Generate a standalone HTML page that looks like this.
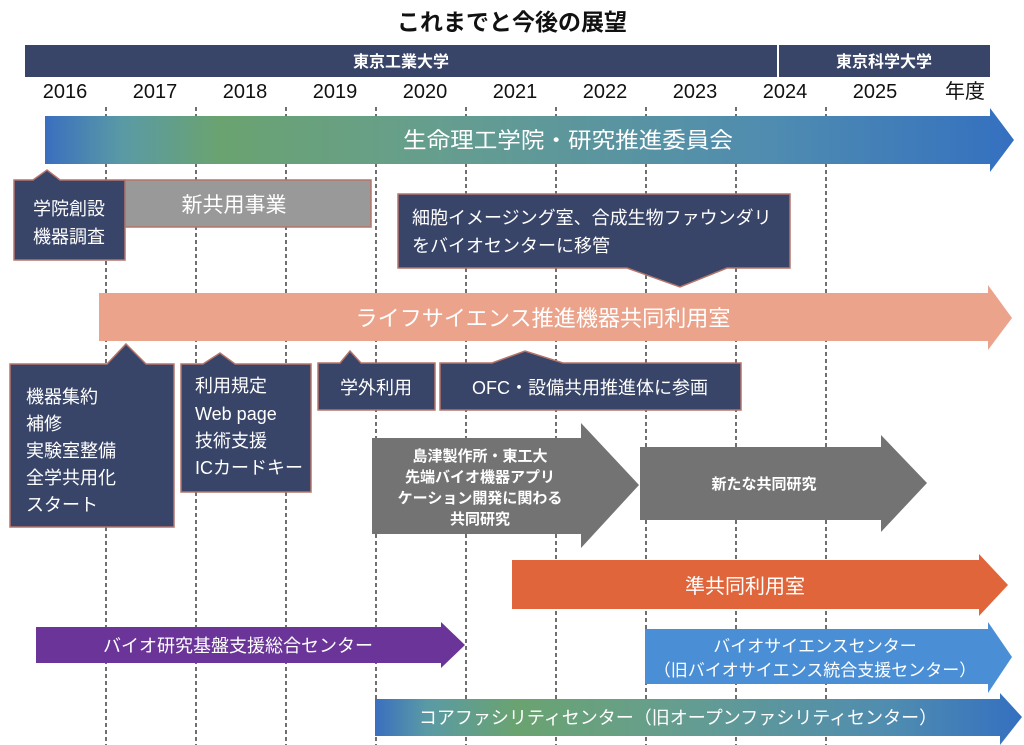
<!DOCTYPE html>
<html><head><meta charset="utf-8"><style>
html,body{margin:0;padding:0;background:#fff}
svg{display:block}
text{font-family:"Liberation Sans","Noto Sans CJK JP",sans-serif}
</style></head><body>
<svg width="1024" height="745" viewBox="0 0 1024 745">
<defs>
<linearGradient id="g1" x1="0" x2="1" y1="0" y2="0">
<stop offset="0" stop-color="#3a6fbf"/><stop offset="0.08" stop-color="#5a9aa5"/><stop offset="0.18" stop-color="#6aa370"/><stop offset="0.4" stop-color="#669e8e"/><stop offset="0.75" stop-color="#4f8cb0"/><stop offset="1" stop-color="#3470c0"/>
</linearGradient>
<linearGradient id="g2" x1="0" x2="1" y1="0" y2="0">
<stop offset="0" stop-color="#3a6fbf"/><stop offset="0.08" stop-color="#5a9aa5"/><stop offset="0.22" stop-color="#6aa370"/><stop offset="0.45" stop-color="#669e8e"/><stop offset="0.8" stop-color="#4f8cb0"/><stop offset="1" stop-color="#3470c0"/>
</linearGradient>
</defs>
<text x="512" y="30" font-size="23" font-weight="bold" text-anchor="middle" fill="#111">これまでと今後の展望</text>
<rect x="25" y="45" width="752" height="32" fill="#384468"/>
<rect x="779" y="45" width="211" height="32" fill="#384468"/>
<text x="401" y="67" font-size="16" font-weight="bold" fill="#fff" text-anchor="middle">東京工業大学</text>
<text x="884" y="67" font-size="16" font-weight="bold" fill="#fff" text-anchor="middle">東京科学大学</text>
<g font-size="20" fill="#111" text-anchor="middle">
<text x="65" y="98">2016</text><text x="155" y="98">2017</text><text x="245" y="98">2018</text><text x="335" y="98">2019</text><text x="425" y="98">2020</text><text x="515" y="98">2021</text><text x="605" y="98">2022</text><text x="695" y="98">2023</text><text x="785" y="98">2024</text><text x="875" y="98">2025</text><text x="965" y="98">年度</text>
</g>
<g stroke="#222" stroke-width="1.3" stroke-dasharray="4,3">
<line x1="106" y1="107" x2="106" y2="745"/><line x1="196" y1="107" x2="196" y2="745"/><line x1="286" y1="107" x2="286" y2="745"/><line x1="376" y1="107" x2="376" y2="745"/><line x1="466" y1="107" x2="466" y2="745"/><line x1="556" y1="107" x2="556" y2="745"/><line x1="646" y1="107" x2="646" y2="745"/><line x1="736" y1="107" x2="736" y2="745"/><line x1="826" y1="107" x2="826" y2="745"/>
</g>
<polygon points="45,116 990,116 990,108 1014,140 990,172 990,164 45,164" fill="url(#g1)"/>
<text x="568" y="148" font-size="22" fill="#fff" text-anchor="middle" textLength="330" lengthAdjust="spacingAndGlyphs">生命理工学院・研究推進委員会</text>
<rect x="125" y="180" width="246" height="47" fill="#999" stroke="#b5756a" stroke-width="1.5"/>
<text x="234" y="212" font-size="21" fill="#fff" text-anchor="middle">新共用事業</text>
<polygon points="14,180 33,180 47,170 60,180 125,180 125,260 14,260" fill="#384468" stroke="#b5756a" stroke-width="1.5"/>
<text x="69" y="215" font-size="18" fill="#fff" text-anchor="middle">学院創設</text>
<text x="69" y="243" font-size="18" fill="#fff" text-anchor="middle">機器調査</text>
<polygon points="398,194 790,194 790,268 727,268 680,287 627,268 398,268" fill="#384468" stroke="#b5756a" stroke-width="1.5"/>
<text x="412" y="224" font-size="18" fill="#fff">細胞イメージング室、合成生物ファウンダリ</text>
<text x="412" y="252" font-size="18" fill="#fff">をバイオセンターに移管</text>
<polygon points="99,293 988,293 988,285 1012,318 988,350 988,341 99,341" fill="#eba48b"/>
<text x="543" y="326" font-size="22" fill="#fff" text-anchor="middle" textLength="375" lengthAdjust="spacingAndGlyphs">ライフサイエンス推進機器共同利用室</text>
<polygon points="10,364 107,364 126,344 146,364 174,364 174,527 10,527" fill="#384468" stroke="#b5756a" stroke-width="1.5"/>
<g font-size="18" fill="#fff"><text x="26" y="403">機器集約</text><text x="26" y="430">補修</text><text x="26" y="457">実験室整備</text><text x="26" y="484">全学共用化</text><text x="26" y="511">スタート</text></g>
<polygon points="181,364 203,364 220,353 235,364 311,364 311,492 181,492" fill="#384468" stroke="#b5756a" stroke-width="1.5"/>
<g font-size="18" fill="#fff"><text x="195" y="392">利用規定</text><text x="195" y="420">Web page</text><text x="195" y="447">技術支援</text><text x="195" y="474">ICカードキー</text></g>
<polygon points="318,363 340,363 350,351 361,363 435,363 435,410 318,410" fill="#384468" stroke="#b5756a" stroke-width="1.5"/>
<text x="376" y="394" font-size="18" fill="#fff" text-anchor="middle">学外利用</text>
<polygon points="440,363 492,363 525,351 563,363 741,363 741,410 440,410" fill="#384468" stroke="#b5756a" stroke-width="1.5"/>
<text x="590" y="394" font-size="18" fill="#fff" text-anchor="middle">OFC・設備共用推進体に参画</text>
<polygon points="372,438 581,438 581,423 639,485 581,548 581,534 372,534" fill="#737373"/>
<g font-size="15" font-weight="bold" fill="#fff" text-anchor="middle"><text x="480" y="461">島津製作所・東工大</text><text x="480" y="482">先端バイオ機器アプリ</text><text x="480" y="503">ケーション開発に関わる</text><text x="480" y="524">共同研究</text></g>
<polygon points="640,447 881,447 881,435 927,483 881,532 881,520 640,520" fill="#737373"/>
<text x="764" y="489" font-size="15" font-weight="bold" fill="#fff" text-anchor="middle">新たな共同研究</text>
<polygon points="512,560 979,560 979,554 1008,585 979,616 979,609 512,609" fill="#e0653a"/>
<text x="745" y="593" font-size="20" fill="#fff" text-anchor="middle">準共同利用室</text>
<polygon points="36,627 441,627 441,622 465,645 441,668 441,663 36,663" fill="#6b3499"/>
<text x="238" y="652" font-size="18" fill="#fff" text-anchor="middle">バイオ研究基盤支援総合センター</text>
<polygon points="645,629 988,629 988,622 1012,657 988,693 988,684 645,684" fill="#4a8fd6"/>
<text x="815" y="652" font-size="17" fill="#fff" text-anchor="middle">バイオサイエンスセンター</text>
<text x="815" y="676" font-size="17" fill="#fff" text-anchor="middle">（旧バイオサイエンス統合支援センター）</text>
<polygon points="375,699 1000,699 1000,693 1022,717 1000,745 1000,736 375,736" fill="url(#g2)"/>
<text x="678" y="724" font-size="18" fill="#fff" text-anchor="middle">コアファシリティセンター（旧オープンファシリティセンター）</text>
</svg>
</body></html>
